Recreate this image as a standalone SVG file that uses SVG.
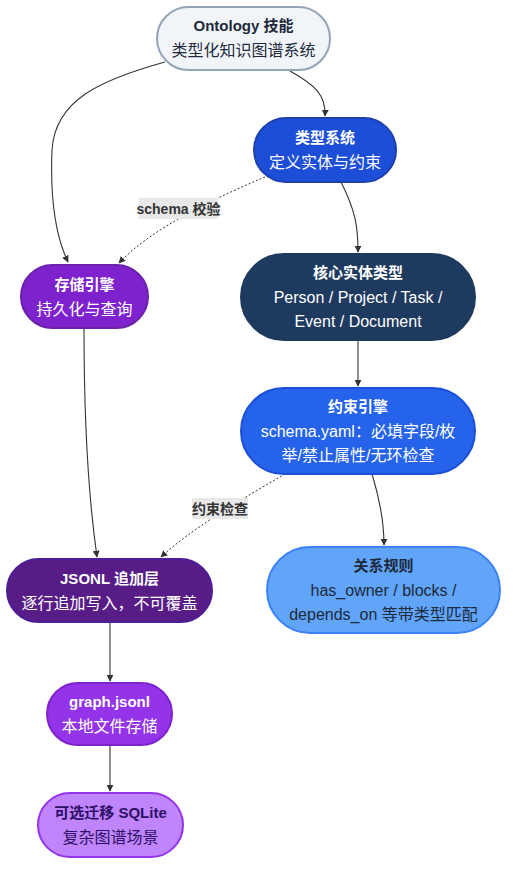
<svg xmlns="http://www.w3.org/2000/svg" width="516" height="877" viewBox="0 0 516 877">
<defs>
<marker id="arr" viewBox="0 0 10 10" refX="9" refY="5" markerWidth="7" markerHeight="7" orient="auto-start-reverse" markerUnits="userSpaceOnUse">
<path d="M0,0 L10,5 L0,10 z" fill="#333"/>
</marker>
<style>
text{font-family:"Liberation Sans","Noto Sans CJK SC",sans-serif;font-size:16px;text-anchor:middle}
.t{font-weight:bold;font-size:15px}
.w{fill:#ffffff}
.d{fill:#1e293b}
.e{fill:none;stroke:#333;stroke-width:1.1}
.ds{stroke-dasharray:2,2;stroke-width:1}
.lb{fill:#e8e8e8}
.lt{font-size:14px;font-weight:bold;fill:#333}
</style>
</defs>
<rect width="516" height="877" fill="#ffffff"/>
<g id="edges">
<path class="e" d="M165,62 C100,80 55,100 52,150 C50,200 55,235 68,262" marker-end="url(#arr)"/>
<path class="e" d="M290,71 C315,85 326,95 325,116" marker-end="url(#arr)"/>
<path class="e ds" d="M265,177 C210,200 150,230 119,263" marker-end="url(#arr)"/>
<path class="e" d="M341,182 C355,210 358,225 358,252" marker-end="url(#arr)"/>
<path class="e" d="M358,340 L358,386" marker-end="url(#arr)"/>
<path class="e" d="M372,474 C380,500 384,520 384,545" marker-end="url(#arr)"/>
<path class="e ds" d="M285,474 C240,500 190,530 161,557" marker-end="url(#arr)"/>
<path class="e" d="M84,328 C84,400 86,480 97,557" marker-end="url(#arr)"/>
<path class="e" d="M110,622 L110,681" marker-end="url(#arr)"/>
<path class="e" d="M110,745 L110,791" marker-end="url(#arr)"/>
<rect class="lb" x="139" y="198" width="79" height="21"/>
<text class="lt" x="178.5" y="213.5">schema 校验</text>
<rect class="lb" x="192" y="498" width="56" height="21"/>
<text class="lt" x="220" y="513.5">约束检查</text>
</g>
<g id="ontology">
<rect x="157" y="7" width="173" height="63" rx="31.5" fill="#f1f5f9" stroke="#94a3b8" stroke-width="2"/>
<text class="t d" x="243.5" y="31">Ontology 技能</text>
<text class="d" x="243.5" y="56">类型化知识图谱系统</text>
</g>
<g id="typesys">
<rect x="254" y="118" width="142" height="64" rx="32" fill="#1d4ed8" stroke="#1e40af" stroke-width="2"/>
<text class="t w" x="325" y="143">类型系统</text>
<text class="w" x="325" y="168">定义实体与约束</text>
</g>
<g id="storage">
<rect x="21" y="265" width="127" height="63" rx="31.5" fill="#7e22ce" stroke="#6b21a8" stroke-width="2"/>
<text class="t w" x="84.5" y="290">存储引擎</text>
<text class="w" x="84.5" y="315">持久化与查询</text>
</g>
<g id="core">
<rect x="241" y="254" width="234" height="86" rx="43" fill="#1e3a5f" stroke="#1e3a5f" stroke-width="2"/>
<text class="t w" x="358" y="278">核心实体类型</text>
<text class="w" x="358" y="303">Person / Project / Task /</text>
<text class="w" x="358" y="327">Event / Document</text>
</g>
<g id="constraint">
<rect x="241" y="388" width="234" height="86" rx="43" fill="#2563eb" stroke="#1d4ed8" stroke-width="2"/>
<text class="t w" x="358" y="412">约束引擎</text>
<text class="w" x="358" y="437">schema.yaml：必填字段/枚</text>
<text class="w" x="358" y="461">举/禁止属性/无环检查</text>
</g>
<g id="jsonl">
<rect x="7" y="559" width="205" height="63" rx="31.5" fill="#581c87" stroke="#4c1d95" stroke-width="2"/>
<text class="t w" x="109.5" y="584">JSONL 追加层</text>
<text class="w" x="109.5" y="609">逐行追加写入，不可覆盖</text>
</g>
<g id="relation">
<rect x="267" y="547" width="233" height="86" rx="43" fill="#60a5fa" stroke="#3b82f6" stroke-width="2"/>
<text class="t d" x="383.5" y="571">关系规则</text>
<text class="d" x="383.5" y="596">has_owner / blocks /</text>
<text class="d" x="383.5" y="620">depends_on 等带类型匹配</text>
</g>
<g id="graph">
<rect x="47" y="683" width="125" height="62" rx="31" fill="#9333ea" stroke="#7e22ce" stroke-width="2"/>
<text class="t w" x="109.5" y="707">graph.jsonl</text>
<text class="w" x="109.5" y="732">本地文件存储</text>
</g>
<g id="sqlite">
<rect x="38" y="793" width="145" height="64" rx="32" fill="#c084fc" stroke="#9333ea" stroke-width="2"/>
<text class="t" x="110.5" y="818" fill="#2e1065">可选迁移 SQLite</text>
<text x="110.5" y="843" fill="#2e1065">复杂图谱场景</text>
</g>
</svg>
